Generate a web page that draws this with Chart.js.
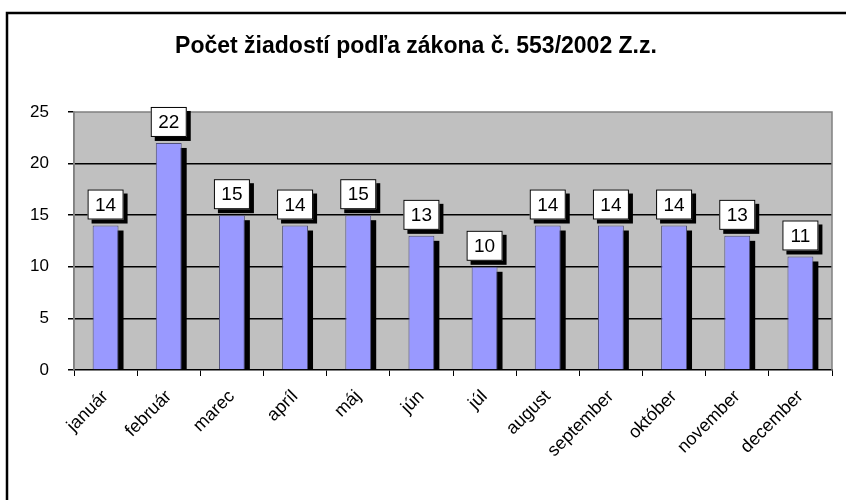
<!DOCTYPE html>
<html>
<head>
<meta charset="utf-8">
<script src="https://cdn.jsdelivr.net/npm/chart.js@4/dist/chart.umd.min.js"></script>
<style>
  html, body { margin: 0; padding: 0; background: #fff; }
  #wrap { width: 846px; height: 500px; }
</style>
</head>
<body>
<div id="wrap"><canvas id="requestsChart" width="846" height="500"></canvas></div>
<script>
const months = ['január', 'február', 'marec', 'apríl', 'máj', 'jún', 'júl', 'august', 'september', 'október', 'november', 'december'];
const requests = [14, 22, 15, 14, 15, 13, 10, 14, 14, 14, 13, 11];
const yTicks = [0, 5, 10, 15, 20, 25];
const chartTitle = 'Počet žiadostí podľa zákona č. 553/2002 Z.z.';

const FONT = 'Arial, "Liberation Sans", sans-serif';

// frame, grey plot background, bar shadows
const excelLook = {
  id: 'excelLook',
  beforeDraw(chart) {
    const { ctx, chartArea: a } = chart;
    ctx.save();
    ctx.fillStyle = '#C0C0C0';
    ctx.fillRect(a.left, a.top, a.right - a.left, a.bottom - a.top);
    ctx.restore();
  },
  beforeDatasetsDraw(chart) {
    const { ctx, chartArea: a } = chart;
    ctx.save();
    ctx.beginPath();
    ctx.rect(a.left, a.top, a.right - a.left + 10, a.bottom - a.top);
    ctx.clip();
    ctx.fillStyle = '#000';
    chart.getDatasetMeta(0).data.forEach(bar => {
      const w = bar.width;
      ctx.fillRect(bar.x - w / 2 + 5, bar.y + 5, w, bar.base - bar.y);
    });
    ctx.restore();
  },
  afterDraw(chart) {
    const { ctx, chartArea: a } = chart;
    ctx.save();
    // plot border
    ctx.strokeStyle = '#808080';
    ctx.lineWidth = 1.5;
    ctx.beginPath();
    ctx.moveTo(a.left, a.bottom);
    ctx.lineTo(a.left, a.top);
    ctx.lineTo(a.right, a.top);
    ctx.lineTo(a.right, a.bottom);
    ctx.stroke();
    // outer frame (runs off the page right and bottom)
    ctx.strokeStyle = '#000';
    ctx.lineWidth = 2.5;
    ctx.strokeRect(7, 13, 900, 600);

    // value labels in boxes
    ctx.font = '19px ' + FONT;
    ctx.textAlign = 'center';
    ctx.textBaseline = 'middle';
    const meta = chart.getDatasetMeta(0);
    meta.data.forEach((bar, i) => {
      const bw = 36, bh = 30;
      const x = bar.x - bw / 2, y = bar.y - 6 - bh;
      ctx.fillStyle = '#000';
      ctx.fillRect(x + 4, y + 4, bw, bh);
      ctx.fillStyle = '#fff';
      ctx.fillRect(x, y, bw, bh);
      ctx.strokeStyle = '#000';
      ctx.lineWidth = 1;
      ctx.strokeRect(x + 0.5, y + 0.5, bw - 1, bh - 1);
      ctx.fillStyle = '#000';
      ctx.fillText(String(requests[i]), bar.x, y + bh / 2 + 1);
    });
    ctx.restore();
  }
};

new Chart(document.getElementById('requestsChart'), {
  type: 'bar',
  data: {
    labels: months,
    datasets: [{
      data: requests,
      backgroundColor: '#9999FF',
      borderColor: '#50507a',
      borderWidth: 1,
      categoryPercentage: 1,
      barPercentage: 0.41
    }]
  },
  options: {
    responsive: false,
    animation: false,
    layout: { padding: { left: 0, right: 14, top: 0, bottom: 0 } },
    plugins: {
      legend: { display: false },
      tooltip: { enabled: false },
      title: {
        display: true,
        text: chartTitle,
        color: '#000',
        font: { family: FONT, size: 23, weight: 'bold' },
        padding: { top: 33, bottom: 51.4 }
      }
    },
    scales: {
      x: {
        afterFit(scale) { scale.height = 130; },
        grid: { drawOnChartArea: false, drawTicks: true, tickLength: 6, color: '#000', offset: true },
        border: { color: '#000', width: 1.5 },
        ticks: {
          color: '#000',
          font: { family: FONT, size: 18 },
          minRotation: 45, maxRotation: 45,
          padding: 10,
          autoSkip: false
        }
      },
      y: {
        min: 0, max: 25,
        afterFit(scale) { scale.width = 74; },
        afterBuildTicks(scale) { scale.ticks = yTicks.map(v => ({ value: v })); },
        grid: {
          tickLength: 6,
          color: ctx => (ctx.tick && ctx.tick.value > 0 && ctx.tick.value < 25) ? '#000' : 'rgba(0,0,0,0)',
          tickColor: '#000',
          lineWidth: 1.5
        },
        border: { color: '#808080', width: 1.5 },
        ticks: {
          color: '#000',
          font: { family: FONT, size: 17 },
          padding: 19
        }
      }
    }
  },
  plugins: [excelLook]
});
</script>
</body>
</html>
